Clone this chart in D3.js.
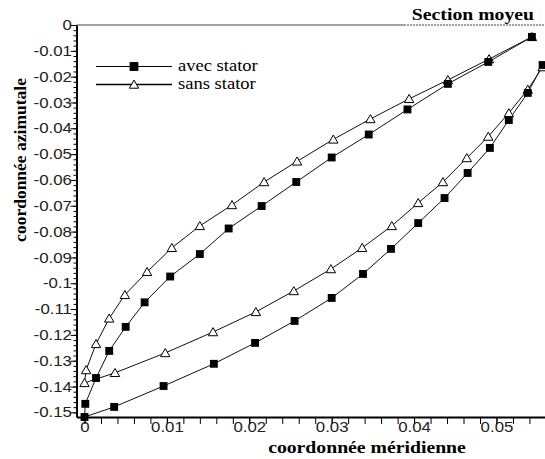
<!DOCTYPE html>
<html>
<head>
<meta charset="utf-8">
<script src="https://cdn.jsdelivr.net/npm/d3@7"></script>
<style>
  body { margin: 0; background: #fff; }
  svg { display: block; }
</style>
</head>
<body>
<script>
const w = 545;
const h = 459;

// profile points, from trailing edge of the lower side round the leading edge to the upper side
const avecX = [0.0556, 0.0538, 0.0515, 0.0492, 0.0465, 0.0437, 0.0405, 0.0372, 0.0338, 0.0300, 0.0255, 0.0207, 0.0157, 0.0096, 0.0036, 0.0,
  0.0001, 0.0014, 0.0030, 0.0050, 0.0073, 0.0104, 0.0140, 0.0175, 0.0215, 0.0257, 0.0300, 0.0345, 0.0392, 0.0441, 0.0490, 0.0543];
const avecY = [-0.0155, -0.0263, -0.0368, -0.0476, -0.0573, -0.0670, -0.0767, -0.0867, -0.0964, -0.1057, -0.1146, -0.1231, -0.1312, -0.1398, -0.1479, -0.1518,
  -0.1467, -0.1367, -0.1262, -0.1169, -0.1074, -0.0974, -0.0887, -0.0788, -0.0701, -0.0608, -0.0513, -0.0424, -0.0327, -0.0228, -0.0143, -0.0046];

const sansX = [0.0556, 0.0538, 0.0515, 0.0490, 0.0464, 0.0435, 0.0405, 0.0373, 0.0337, 0.0299, 0.0254, 0.0208, 0.0156, 0.0098, 0.0037, 0.0,
  0.0002, 0.0014, 0.0030, 0.0049, 0.0076, 0.0106, 0.0140, 0.0179, 0.0218, 0.0258, 0.0302, 0.0347, 0.0394, 0.0441, 0.0491, 0.0543];
const sansY = [-0.0163, -0.0250, -0.0341, -0.0432, -0.0515, -0.0608, -0.0689, -0.0778, -0.0863, -0.0945, -0.1030, -0.1111, -0.1189, -0.1270, -0.1347, -0.1386,
  -0.1336, -0.1235, -0.1136, -0.1045, -0.0956, -0.0863, -0.0778, -0.0697, -0.0608, -0.0528, -0.0443, -0.0364, -0.0286, -0.0213, -0.0132, -0.0046];

const xTicks = [0, 0.01, 0.02, 0.03, 0.04, 0.05];
const xTickLabels = ["0", "0.01", "0.02", "0.03", "0.04", "0.05"];
const yTicks = [0, -0.01, -0.02, -0.03, -0.04, -0.05, -0.06, -0.07, -0.08, -0.09, -0.1, -0.11, -0.12, -0.13, -0.14, -0.15];
const yTickLabels = ["0", "-0.01", "-0.02", "-0.03", "-0.04", "-0.05", "-0.06", "-0.07", "-0.08", "-0.09", "-0.1", "-0.11", "-0.12", "-0.13", "-0.14", "-0.15"];

const seriesNames = ["avec stator", "sans stator"];

const plotLeft = 76.5, plotRight = 545, plotTop = 25, plotBottom = 417;
const stretch = 1.16; // the reference text is a bit wide
const serif = "'Liberation Serif', 'Times New Roman', serif";
const sans_ = "'Liberation Sans', Arial, sans-serif";

const x = d3.scaleLinear().domain([-0.00097, 0.05589]).range([plotLeft, plotRight]);
const y = d3.scaleLinear().domain([-0.1518, 0]).range([plotBottom, plotTop]);

const svg = d3.select("body").append("svg")
  .attr("width", w)
  .attr("height", h);

// top frame line, dotted under the title
svg.append("line")
  .attr("x1", plotLeft).attr("x2", 404).attr("y1", plotTop).attr("y2", plotTop)
  .attr("stroke", "#444").attr("stroke-width", 1);
svg.append("line")
  .attr("x1", 404).attr("x2", plotRight).attr("y1", plotTop).attr("y2", plotTop)
  .attr("stroke", "#444").attr("stroke-width", 1).attr("stroke-dasharray", "2,1");

// minor ticks
svg.append("g")
  .attr("transform", "translate(" + plotLeft + ",0)")
  .call(d3.axisLeft(y).tickValues(d3.range(0, -0.1519, -0.002)).tickSize(3).tickSizeOuter(0).tickFormat(""))
  .call(g => g.select(".domain").remove());
svg.append("g")
  .attr("transform", "translate(0," + plotBottom + ")")
  .call(d3.axisBottom(x).tickValues(d3.range(0, 0.0559, 0.002)).tickSize(7).tickSizeOuter(0).tickFormat(""))
  .call(g => g.select(".domain").remove());

// major ticks + labels
const yAxis = svg.append("g")
  .attr("transform", "translate(" + plotLeft + ",0)")
  .call(d3.axisLeft(y).tickValues(yTicks).tickSize(6).tickSizeOuter(0).tickPadding(-2)
    .tickFormat((d, i) => yTickLabels[i]));
const xAxis = svg.append("g")
  .attr("transform", "translate(0," + plotBottom + ")")
  .call(d3.axisBottom(x).tickValues(xTicks).tickSize(7).tickSizeOuter(0)
    .tickFormat((d, i) => xTickLabels[i]));

[yAxis, xAxis].forEach(a => {
  a.select(".domain").attr("stroke", "#000").attr("stroke-width", 2);
  a.selectAll("text")
    .attr("font-family", sans_)
    .attr("font-size", 14.5)
    .attr("fill", "#222");
});
yAxis.selectAll("text").attr("transform", "scale(" + stretch + ",1)");
xAxis.selectAll("text").attr("y", 15).attr("dy", "0").attr("transform", "scale(" + stretch + ",1)");

// curves
svg.append("clipPath").attr("id", "clip")
  .append("rect").attr("x", plotLeft).attr("y", 0).attr("width", plotRight - plotLeft).attr("height", plotBottom);

const line = d3.line().x(d => x(d[0])).y(d => y(d[1]));
const avec = avecX.map((v, i) => [v, avecY[i]]);
const sans = sansX.map((v, i) => [v, sansY[i]]);

const curves = svg.append("g").attr("clip-path", "url(#clip)");
[sans, avec].forEach(s => {
  curves.append("path")
    .datum(s)
    .attr("d", line)
    .attr("fill", "none")
    .attr("stroke", "#111")
    .attr("stroke-width", 1);
});

const tri = d3.symbol().type(d3.symbolTriangle).size(38);
const sq = d3.symbol().type(d3.symbolSquare).size(62);

svg.append("g").selectAll("path")
  .data(sans)
  .enter()
  .append("path")
  .attr("d", tri)
  .attr("transform", d => "translate(" + x(d[0]) + "," + (y(d[1]) + 1) + ")")
  .attr("fill", "#fff")
  .attr("stroke", "#000")
  .attr("stroke-width", 1);

svg.append("g").selectAll("path")
  .data(avec)
  .enter()
  .append("path")
  .attr("d", sq)
  .attr("transform", d => "translate(" + x(d[0]) + "," + y(d[1]) + ")")
  .attr("fill", "#000");

// legend
const legend = svg.append("g")
  .selectAll("g")
  .data(seriesNames)
  .enter()
  .append("g")
  .attr("transform", (d, i) => "translate(0," + (66.5 + i * 18) + ")");

legend.append("line")
  .attr("x1", 96).attr("x2", 172)
  .attr("stroke", "#000").attr("stroke-width", (d, i) => i == 0 ? 1 : 1.5);
legend.append("path")
  .attr("d", (d, i) => i == 0 ? sq() : tri())
  .attr("transform", (d, i) => "translate(134," + (i == 0 ? 0 : 1) + ")")
  .attr("fill", (d, i) => i == 0 ? "#000" : "#fff")
  .attr("stroke", "#000");
legend.append("text")
  .attr("transform", "translate(178,4.5) scale(" + stretch + ",1)")
  .attr("font-family", serif)
  .attr("font-size", 16)
  .attr("fill", "#000")
  .text(d => d);

// titles
svg.append("text")
  .attr("transform", "translate(534,20) scale(" + stretch + ",1)")
  .attr("text-anchor", "end")
  .attr("font-family", serif)
  .attr("font-weight", "bold")
  .attr("font-size", 17)
  .text("Section moyeu");

svg.append("text")
  .attr("transform", "translate(367,453) scale(" + stretch + ",1)")
  .attr("text-anchor", "middle")
  .attr("font-family", serif)
  .attr("font-weight", "bold")
  .attr("font-size", 17)
  .text("coordonnée méridienne");

svg.append("text")
  .attr("transform", "translate(26,160) rotate(-90)")
  .attr("text-anchor", "middle")
  .attr("font-family", serif)
  .attr("font-weight", "bold")
  .attr("font-size", 17.5)
  .text("coordonnée azimutale");
</script>
</body>
</html>
